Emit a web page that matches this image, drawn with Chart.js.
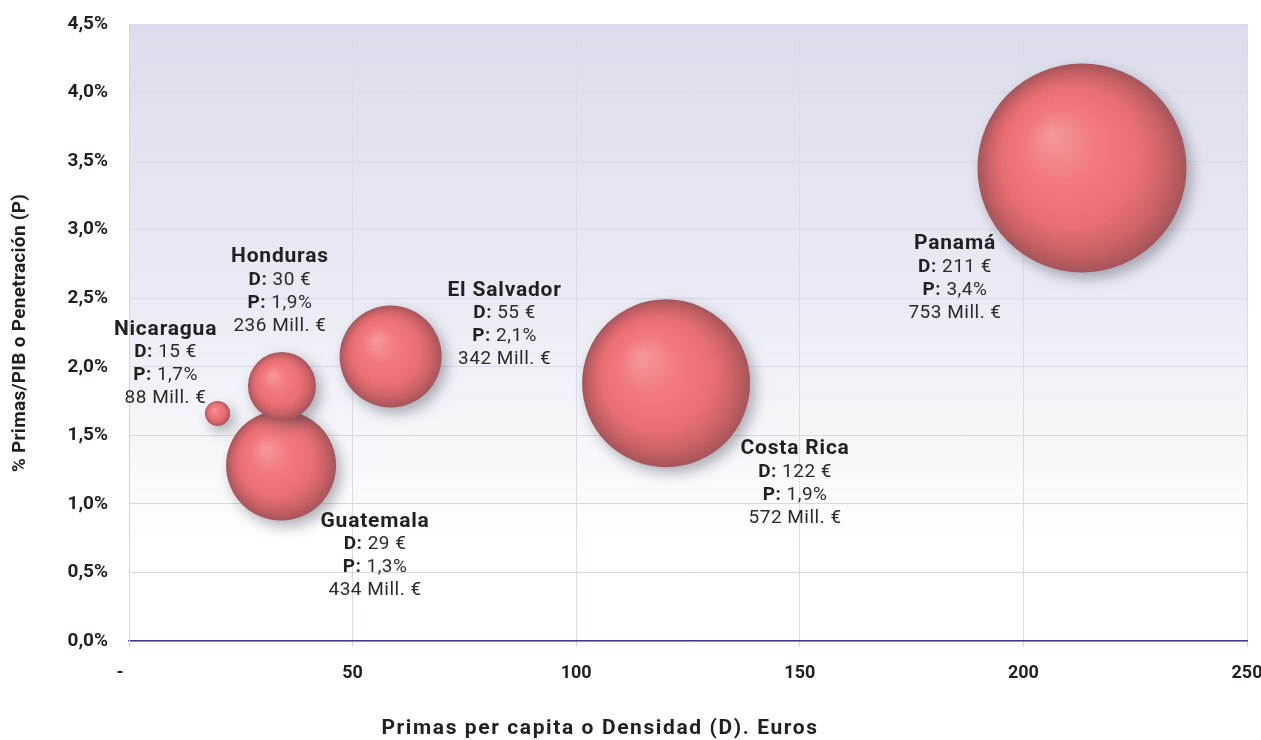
<!DOCTYPE html>
<html>
<head>
<meta charset="utf-8">
<script src="https://cdn.jsdelivr.net/npm/chart.js@4/dist/chart.umd.min.js"></script>
<style>
    html, body { margin: 0; padding: 0; background: #ffffff; }
    #wrap { width: 1261px; height: 740px; position: relative; }
</style>
</head>
<body>
<div id="wrap"><canvas id="burbujas"></canvas></div>
<script>
// Países (orden de dibujo: las burbujas posteriores quedan encima)
const paises = ['Nicaragua', 'Guatemala', 'Honduras', 'El Salvador', 'Costa Rica', 'Panamá'];
// Textos de las etiquetas
const densidad = [15, 29, 30, 55, 122, 211];          // D, euros per capita
const penetracion = [1.7, 1.3, 1.9, 2.1, 1.9, 3.4];   // P, % primas/PIB
const primas = [88, 434, 236, 342, 572, 753];          // Mill. €
// Posición de las burbujas
const posX = [19.8, 34.0, 34.2, 58.5, 120.1, 213.1];
const posY = [1.66, 1.28, 1.86, 2.075, 1.88, 3.45];
const tamano = [12.5, 55, 34, 51, 84, 104.5];
// Ticks
const ticksX = [0, 50, 100, 150, 200, 250];
const ticksY = [0, 0.5, 1, 1.5, 2, 2.5, 3, 3.5, 4, 4.5];

// Desplazamiento de cada etiqueta respecto al centro de su burbuja (px)
const labelOffsets = [[-52, -84], [94, 56], [-2, -129], [114, -66], [129, 66], [-127, 76]];

const FONT = 'Roboto, "Open Sans", sans-serif';
const TEXT = '#231f20';

function fmtPct(v) {
    return v.toFixed(1).replace('.', ',') + '%';
}

// Gradiente radial tipo esfera para cada burbuja
function sphereColor(context) {
    const chart = context.chart;
    const raw = context.raw;
    if (!raw || !chart.chartArea) return '#ee7074';
    const x = chart.scales.x.getPixelForValue(raw.x);
    const y = chart.scales.y.getPixelForValue(raw.y);
    const r = raw.r;
    const g = chart.ctx.createRadialGradient(x - 0.3 * r, y - 0.32 * r, 0, x, y, r);
    g.addColorStop(0, '#f49a9e');
    g.addColorStop(0.35, '#f2797e');
    g.addColorStop(0.68, '#e76e73');
    g.addColorStop(0.86, '#c96166');
    g.addColorStop(1, '#a4555a');
    return g;
}

const fondoPlugin = {
    id: 'fondo',
    beforeDraw(chart) {
        const { ctx, chartArea: a } = chart;
        const g = ctx.createLinearGradient(0, a.top, 0, a.bottom);
        g.addColorStop(0, '#dcdcec');
        g.addColorStop(0.45, '#ebebf5');
        g.addColorStop(0.85, '#ffffff');
        ctx.save();
        ctx.fillStyle = g;
        ctx.fillRect(a.left, a.top, a.right - a.left, a.bottom - a.top);
        ctx.restore();
    },
    beforeDatasetsDraw(chart) {
        const ctx = chart.ctx;
        ctx.save();
        ctx.shadowColor = 'rgba(50, 50, 70, 0.38)';
        ctx.shadowBlur = 14;
        ctx.shadowOffsetX = 5;
        ctx.shadowOffsetY = 6;
    },
    afterDatasetsDraw(chart) {
        chart.ctx.restore();
    },
    afterDraw(chart) {
        const ctx = chart.ctx;
        const meta = chart.getDatasetMeta(0);
        ctx.save();
        ctx.fillStyle = TEXT;
        ctx.textBaseline = 'middle';

        meta.data.forEach((pt, i) => {
            const cx = pt.x + labelOffsets[i][0];
            let cy = pt.y + labelOffsets[i][1];

            ctx.textAlign = 'center';
            ctx.letterSpacing = '0.8px';
            ctx.font = 'bold 21px ' + FONT;
            ctx.fillText(paises[i], cx, cy);

            ctx.letterSpacing = '0.5px';
            const lines = [
                ['D:', ' ' + densidad[i] + ' €'],
                ['P:', ' ' + fmtPct(penetracion[i])],
                ['', primas[i] + ' Mill. €']
            ];
            lines.forEach(([b, n]) => {
                cy += 23;
                ctx.font = 'bold 19px ' + FONT;
                const wb = ctx.measureText(b).width;
                ctx.font = '19px ' + FONT;
                const wn = ctx.measureText(n).width;
                const x0 = cx - (wb + wn) / 2;
                ctx.textAlign = 'left';
                ctx.font = 'bold 19px ' + FONT;
                ctx.fillText(b, x0, cy);
                ctx.font = '19px ' + FONT;
                ctx.fillStyle = '#2e2a2b';
                ctx.fillText(n, x0 + wb, cy);
                ctx.fillStyle = TEXT;
            });
        });

        // Títulos de los ejes
        ctx.textAlign = 'center';
        ctx.letterSpacing = '1.6px';
        ctx.font = 'bold 21px ' + FONT;
        ctx.fillText('Primas per capita o Densidad (D). Euros', 600, 729);
        ctx.translate(20, 333);
        ctx.rotate(-Math.PI / 2);
        ctx.letterSpacing = '0.3px';
        ctx.font = 'bold 19px ' + FONT;
        ctx.fillText('% Primas/PIB o Penetración (P)', 0, 0);
        ctx.restore();
    }
};

function initBubbleChart(canvasId) {
    const ctx = document.getElementById(canvasId);
    if (!ctx) {
        console.error(`Canvas element with ID '${canvasId}' not found`);
        return;
    }

    const puntos = paises.map((p, i) => ({ x: posX[i], y: posY[i], r: tamano[i] }));

    window.bubbleChart = new Chart(ctx, {
        type: 'bubble',
        data: {
            datasets: [{
                label: 'Primas',
                data: puntos,
                backgroundColor: sphereColor,
                borderWidth: 0,
                clip: false
            }]
        },
        options: {
            responsive: true,
            maintainAspectRatio: false,
            animation: false,
            events: [],
            layout: {
                autoPadding: false,
                padding: { top: 24, right: 14, left: 0, bottom: 0 }
            },
            plugins: {
                legend: { display: false },
                tooltip: { enabled: false },
                title: { display: false }
            },
            scales: {
                x: {
                    type: 'linear',
                    min: 0,
                    max: 250,
                    afterBuildTicks: (axis) => {
                        axis.ticks = ticksX.map(v => ({ value: v }));
                    },
                    afterFit: (axis) => {
                        axis.height = 99;
                        axis.paddingLeft = 0;
                        axis.paddingRight = 0;
                    },
                    grid: {
                        color: '#dcdce8',
                        tickColor: '#d4d4e6',
                        tickLength: 6,
                        drawTicks: true
                    },
                    border: {
                        color: '#3d3d8c',
                        width: 1.5
                    },
                    ticks: {
                        padding: 16,
                        font: { family: FONT, size: 18, weight: 'bold' },
                        color: TEXT,
                        callback: function(value) {
                            return value === 0 ? '-    ' : value;
                        }
                    }
                },
                y: {
                    type: 'linear',
                    min: 0,
                    max: 4.5,
                    afterBuildTicks: (axis) => {
                        axis.ticks = ticksY.map(v => ({ value: v }));
                    },
                    afterFit: (axis) => {
                        axis.width = 129;
                        axis.paddingTop = 0;
                        axis.paddingBottom = 0;
                    },
                    grid: {
                        color: '#d8d8e6',
                        drawTicks: false
                    },
                    border: {
                        color: '#d4d4e8',
                        width: 1
                    },
                    ticks: {
                        padding: 21,
                        font: { family: FONT, size: 19, weight: 'bold' },
                        color: TEXT,
                        callback: function(value) {
                            return fmtPct(value);
                        }
                    }
                }
            }
        },
        plugins: [fondoPlugin]
    });
}

initBubbleChart('burbujas');
</script>
</body>
</html>
